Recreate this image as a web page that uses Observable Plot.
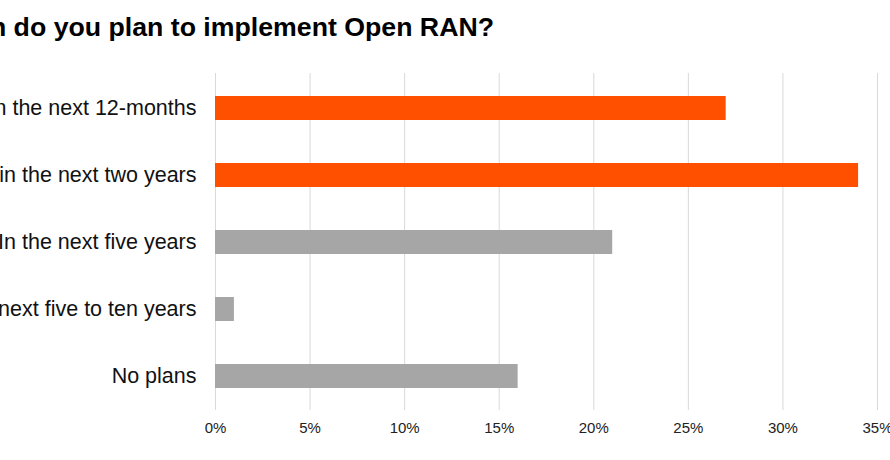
<!DOCTYPE html>
<html>
<head>
<meta charset="utf-8">
<script src="https://cdn.jsdelivr.net/npm/d3@7"></script>
<script src="https://cdn.jsdelivr.net/npm/@observablehq/plot@0.6"></script>
<style>
  html, body { margin: 0; padding: 0; background: #fff; overflow: hidden; }
  #wrap { width: 890px; height: 460px; position: relative; overflow: hidden; }
  #title { position: relative; height: 60px; }
  #title span {
    position: absolute; right: 396px; top: 12px; white-space: nowrap;
    font-family: "Liberation Sans", Arial, sans-serif; font-weight: bold; font-size: 26.7px; color: #000; line-height: 30px;
  }
</style>
</head>
<body>
<div id="wrap">
  <div id="title"><span>When do you plan to implement Open RAN?</span></div>
  <div id="chart"></div>
</div>
<script>
const categories = ["Within the next 12-months", "Within the next two years", "In the next five years", "In the next five to ten years", "No plans"];
const values = [0.27, 0.34, 0.21, 0.01, 0.16];
const highlighted = [true, true, false, false, false];
const xTicks = [0, 0.05, 0.10, 0.15, 0.20, 0.25, 0.30, 0.35];

const data = categories.map((c, i) => ({category: c, value: values[i], hi: highlighted[i]}));
const pct = d => Math.round(d * 100) + "%";

const chart = Plot.plot({
  width: 890,
  height: 400,
  marginTop: 13,
  marginBottom: 50,
  marginLeft: 215,
  marginRight: 13,
  style: {overflow: "visible", fontFamily: "Liberation Sans, Arial, sans-serif", color: "#000", background: "transparent"},
  x: {domain: [0, 0.35], ticks: xTicks, tickFormat: pct},
  y: {domain: categories, paddingInner: 0.645, paddingOuter: 0.31, label: null},
  marks: [
    Plot.gridX(xTicks, {stroke: "#d9d9d9", strokeOpacity: 1, strokeWidth: 1}),
    Plot.barX(data, {x: "value", y: "category", fill: d => d.hi ? "#ff5000" : "#a6a6a6"}),
    Plot.axisY({tickSize: 0, tickPadding: 19, fontSize: 21.5, label: null, fill: "#111"}),
    Plot.axisX({ticks: xTicks, tickFormat: pct, tickSize: 0, tickPadding: 12, fontSize: 15, label: null, fill: "#222"})
  ]
});
document.getElementById("chart").appendChild(chart);
</script>
</body>
</html>
